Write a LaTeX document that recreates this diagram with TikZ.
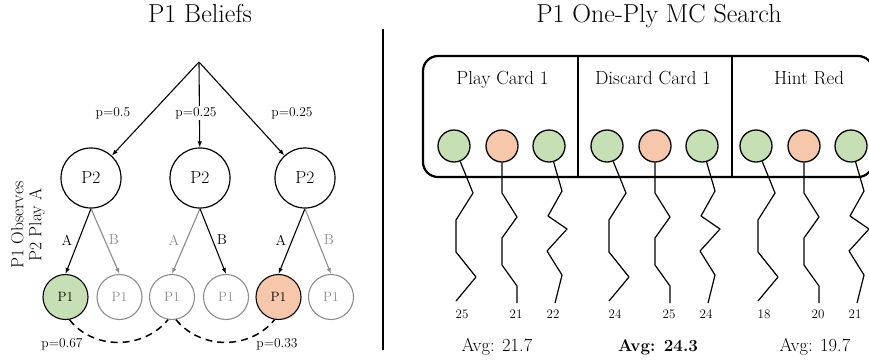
\documentclass[tikz,border=0pt]{standalone}
\usepackage{fontspec}
\usepackage{tikz}
\usetikzlibrary{arrows.meta,calc}
\definecolor{beliefGreen}{HTML}{C6DFB4}
\definecolor{beliefOrange}{HTML}{F6C7AB}
\definecolor{faded}{HTML}{8C8C8C}

\tikzset{
  title/.style={font=\fontsize{26}{27}\selectfont,anchor=base},
  p2node/.style={circle,draw,line width=1.2pt,minimum size=60pt,inner sep=0pt,font=\fontsize{17.5}{18}\selectfont},
  p1node/.style={circle,draw,line width=1.1pt,minimum size=45pt,inner sep=0pt,font=\fontsize{13.5}{14}\selectfont},
  p1faded/.style={p1node,draw=faded,text=faded},
  treeedge/.style={line width=1.1pt,-{Latex[length=6pt,width=4.5pt]}},
  fadededge/.style={treeedge,draw=faded},
  prob/.style={font=\fontsize{13.5}{14}\selectfont,inner sep=1pt},
  actlabel/.style={font=\fontsize{14.5}{15}\selectfont,inner sep=1pt},
  beliefLink/.style={line width=1.5pt,dash pattern=on 7pt off 5pt},
  mcnode/.style={circle,draw,line width=1.3pt,minimum size=32pt,inner sep=0pt},
  walk/.style={line width=1.2pt,line join=round},
  score/.style={font=\fontsize{13}{14}\selectfont,inner sep=1pt},
  section/.style={font=\fontsize{19}{20}\selectfont,anchor=base},
  avg/.style={font=\fontsize{18.5}{19}\selectfont,anchor=base}
}

\begin{document}
\begin{tikzpicture}[x=1pt,y=-1pt]

  \clip (0,0) rectangle (869,360);

  % titles and the rule between the halves
  \node[title] (leftTitle) at (200,22) {P1 Beliefs};
  \node[title] (rightTitle) at (659,22) {P1 One-Ply MC Search};
  \draw[line width=2.6pt] (383,29) -- (383,350);

  % draw the belief tree
  \coordinate (root) at (199,62);
  \foreach \x [count=\i] in {91,200,305}
    \node[p2node] (p2-\i) at (\x,178) {P2};

  \draw[treeedge] (root) -- (p2-1);
  \draw[treeedge] (root) -- (p2-2);
  \draw[treeedge] (root) -- (p2-3);
  \node[prob] (pr-1) at (113,113) {p=0.5};
  \node[prob,fill=white] (pr-2) at (196,113) {p=0.25};
  \node[prob] (pr-3) at (292,113) {p=0.25};

  % the leaves, only two of them fit the observation
  \node[p1node,fill=beliefGreen] (p1-1) at (65.5,297) {P1};
  \node[p1faded] (p1-2) at (119.5,297) {P1};
  \node[p1faded] (p1-3) at (172,297) {P1};
  \node[p1faded] (p1-4) at (226,297) {P1};
  \node[p1node,fill=beliefOrange] (p1-5) at (278.5,297) {P1};
  \node[p1faded] (p1-6) at (331,297) {P1};

  \draw[treeedge] (p2-1.south) -- (p1-1.north);
  \draw[fadededge] (p2-1.south) -- (p1-2.north);
  \draw[fadededge] (p2-2.south) -- (p1-3.north);
  \draw[treeedge] (p2-2.south) -- (p1-4.north);
  \draw[treeedge] (p2-3.south) -- (p1-5.north);
  \draw[fadededge] (p2-3.south) -- (p1-6.north);

  \node[actlabel] (act-1) at (67,240) {A};
  \node[actlabel,text=faded] (act-2) at (114,240) {B};
  \node[actlabel,text=faded] (act-3) at (174,240) {A};
  \node[actlabel] (act-4) at (222,240) {B};
  \node[actlabel] (act-5) at (281,240) {A};
  \node[actlabel,text=faded] (act-6) at (329,240) {B};

  \node[rotate=90,align=center,font=\fontsize{17.5}{18}\selectfont] (observe) at (28,225) {P1 Observes\\P2 Play A};

  % same information set
  \draw[beliefLink] (p1-1.-80) .. controls (93,350) and (143,350) .. (p1-3.-100);
  \draw[beliefLink] (p1-3.-80) .. controls (201,350) and (250,350) .. (p1-5.-100);
  \node[prob] (post-1) at (62,344) {p=0.67};
  \node[prob] (post-2) at (277,344) {p=0.33};

  % draw the action panel
  \draw[line width=2.2pt,rounded corners=15pt] (423,56) rectangle (873,177);
  \draw[line width=1.5pt] (578,56) -- (578,177);
  \draw[line width=1.5pt] (732,56) -- (732,177);
  \node[section] (act-play) at (502.5,84) {Play Card 1};
  \node[section] (act-disc) at (653,84) {Discard Card 1};
  \node[section] (act-hint) at (809,84) {Hint Red};

  % one rollout per sampled world
  \foreach \g/\dx/\sa/\sb/\sc in {1/0/25/21/22, 2/153/24/25/24, 3/302/18/20/21}
  {
    \begin{scope}[xshift=\dx]
      \node[mcnode,fill=beliefGreen] (c\g-1) at (454,146) {};
      \node[mcnode,fill=beliefOrange] (c\g-2) at (502,146) {};
      \node[mcnode,fill=beliefGreen] (c\g-3) at (549,146) {};

      \draw[walk] (c\g-1) -- (473,193) -- (456,220) -- (456,252) -- (476,277) -- (456,301);
      \draw[walk] (c\g-2) -- (502,193) -- (517,217) -- (502,238) -- (502,265) -- (517,286) -- (517,303);
      \draw[walk] (c\g-3) -- (562,191) -- (548,216) -- (567,229) -- (547,251) -- (562,275) -- (555,303);

      \node[score] (s\g-1) at (462,314) {\sa};
      \node[score] (s\g-2) at (516,314) {\sb};
      \node[score] (s\g-3) at (553,314) {\sc};
    \end{scope}
  }

  % averages
  \node[avg] (avg-1) at (497,351) {Avg: 21.7};
  \node[avg,font=\fontsize{17}{18}\selectfont\bfseries] (avg-2) at (658,351) {Avg: 24.3};
  \node[avg] (avg-3) at (815,351) {Avg: 19.7};

\end{tikzpicture}
\end{document}
